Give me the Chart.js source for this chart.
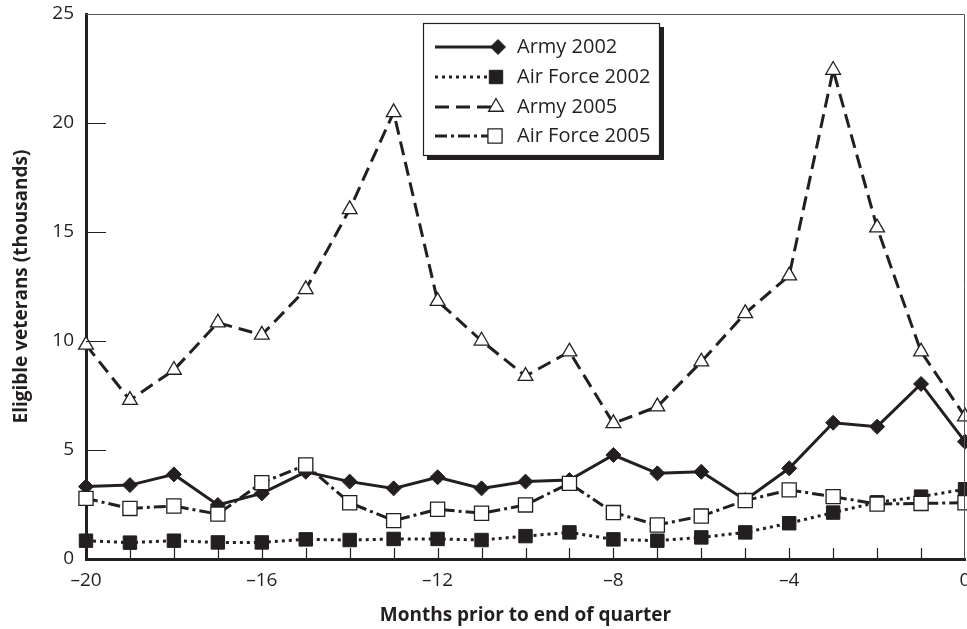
<!DOCTYPE html>
<html>
<head>
<meta charset="utf-8">
<script src="https://cdn.jsdelivr.net/npm/chart.js@4/dist/chart.umd.min.js"></script>
<style>
  html, body { margin: 0; padding: 0; background: #fff; }
  #wrap { width: 967px; height: 629px; position: relative; }
</style>
</head>
<body>
<div id="wrap"><canvas id="grafica"></canvas></div>
<script>
// --- Datos ---
const months = [-20, -19, -18, -17, -16, -15, -14, -13, -12, -11, -10, -9, -8, -7, -6, -5, -4, -3, -2, -1, 0];
const army2002 = [3.32, 3.39, 3.88, 2.48, 3.01, 4.0, 3.55, 3.24, 3.75, 3.24, 3.55, 3.62, 4.77, 3.93, 4.0, 2.71, 4.16, 6.25, 6.07, 8.03, 5.38];
const airForce2002 = [0.84, 0.75, 0.84, 0.76, 0.76, 0.9, 0.87, 0.92, 0.92, 0.87, 1.05, 1.22, 0.9, 0.84, 0.99, 1.22, 1.64, 2.13, 2.6, 2.86, 3.2];
const army2005 = [9.82, 7.29, 8.67, 10.84, 10.28, 12.37, 16.04, 20.49, 11.83, 10.01, 8.39, 9.51, 6.22, 6.99, 9.05, 11.27, 13.0, 22.43, 15.2, 9.51, 6.53];
const airForce2005 = [2.78, 2.32, 2.43, 2.06, 3.5, 4.31, 2.58, 1.76, 2.28, 2.1, 2.48, 3.47, 2.13, 1.56, 1.97, 2.68, 3.17, 2.86, 2.52, 2.55, 2.58];
const xTickLabels = [-20, -16, -12, -8, -4, 0];
const yTickLabels = [0, 5, 10, 15, 20, 25];

const INK = '#231f20';
const FONT = "'Open Sans', 'Noto Sans', sans-serif";

const toPoints = (vals) => months.map((m, i) => ({ x: m, y: vals[i] }));

// --- Marcas interiores y marco superior/derecho ---
const marcoPlugin = {
  id: 'marco',
  afterDatasetsDraw(chart) {
    const { ctx, chartArea, scales } = chart;
    ctx.save();
    ctx.strokeStyle = INK;
    ctx.lineWidth = 1.2;
    ctx.beginPath();
    months.forEach(m => {
      if (m === months[0] || m === months[months.length - 1]) return;
      const px = Math.round(scales.x.getPixelForValue(m)) + 0.5;
      ctx.moveTo(px, chartArea.bottom);
      ctx.lineTo(px, chartArea.bottom - 11);
    });
    yTickLabels.forEach(v => {
      if (v === 0 || v === 25) return;
      const py = Math.round(scales.y.getPixelForValue(v)) + 0.5;
      ctx.moveTo(chartArea.left, py);
      ctx.lineTo(chartArea.left + 20, py);
    });
    ctx.stroke();
    ctx.strokeStyle = '#555';
    ctx.lineWidth = 1;
    ctx.beginPath();
    ctx.moveTo(chartArea.left, chartArea.top + 0.5);
    ctx.lineTo(chartArea.right - 0.5, chartArea.top + 0.5);
    ctx.lineTo(chartArea.right - 0.5, chartArea.bottom);
    ctx.stroke();
    ctx.restore();
  }
};

// --- Leyenda con línea + marcador ---
const leyendaPlugin = {
  id: 'leyenda',
  afterDraw(chart) {
    const { ctx } = chart;
    const box = { x: 423, y: 23, w: 237, h: 133 };
    ctx.save();
    ctx.fillStyle = INK;
    ctx.fillRect(box.x + 4, box.y + 4, box.w, box.h);
    ctx.fillStyle = '#fff';
    ctx.fillRect(box.x, box.y, box.w, box.h);
    ctx.strokeStyle = INK;
    ctx.lineWidth = 1.2;
    ctx.strokeRect(box.x + 0.5, box.y + 0.5, box.w - 1, box.h - 1);
    const rowY = [47, 77, 107, 136];
    const markX = [498, 496, 496, 495];
    chart.data.datasets.forEach((ds, i) => {
      const y = rowY[i];
      ctx.save();
      ctx.strokeStyle = ds.borderColor;
      ctx.lineWidth = ds.borderWidth;
      ctx.setLineDash(ds.borderDash || []);
      ctx.beginPath();
      ctx.moveTo(435, y);
      ctx.lineTo(markX[i], y);
      ctx.stroke();
      ctx.restore();
      ctx.fillStyle = ds.pointBackgroundColor;
      ctx.strokeStyle = ds.pointBorderColor;
      ctx.lineWidth = ds.pointBorderWidth;
      Chart.helpers.drawPoint(ctx, {
        pointStyle: ds.pointStyle, radius: ds.pointRadius, rotation: 0, borderWidth: ds.pointBorderWidth
      }, markX[i], y);
      ctx.fillStyle = INK;
      ctx.font = `20px ${FONT}`;
      ctx.textBaseline = 'middle';
      ctx.textAlign = 'left';
      ctx.fillText(ds.label, 517, y);
    });
    ctx.restore();
  }
};

const dsBase = { borderColor: INK, borderWidth: 3, pointBorderColor: INK, clip: false, tension: 0, borderCapStyle: 'butt' };

new Chart(document.getElementById('grafica'), {
  type: 'line',
  data: {
    datasets: [
      { ...dsBase, label: 'Army 2002', data: toPoints(army2002), order: 3,
        pointStyle: 'rectRot', pointRadius: 7.5, pointBackgroundColor: INK, pointBorderWidth: 1 },
      { ...dsBase, label: 'Air Force 2002', data: toPoints(airForce2002), order: 2, borderDash: [3, 4],
        pointStyle: 'rect', pointRadius: 9.5, pointBackgroundColor: INK, pointBorderWidth: 1 },
      { ...dsBase, label: 'Army 2005', data: toPoints(army2005), order: 1, borderDash: [14, 7],
        pointStyle: 'triangle', pointRadius: 8.5, pointBackgroundColor: '#fff', pointBorderWidth: 1.3 },
      { ...dsBase, label: 'Air Force 2005', data: toPoints(airForce2005), order: 0, borderDash: [12, 4, 3, 4],
        pointStyle: 'rect', pointRadius: 10, pointBackgroundColor: '#fff', pointBorderWidth: 1.3 }
    ]
  },
  options: {
    responsive: true,
    maintainAspectRatio: false,
    animation: false,
    layout: { autoPadding: false, padding: { top: 14, right: 2, left: 0, bottom: 0 } },
    plugins: { legend: { display: false }, tooltip: { enabled: false } },
    elements: { point: { hoverRadius: 0 } },
    scales: {
      x: {
        type: 'linear', min: -20, max: 0,
        afterBuildTicks: (s) => { s.ticks = xTickLabels.map(v => ({ value: v })); },
        afterFit: (s) => { s.height = 70; s.paddingLeft = 0; s.paddingRight = 0; },
        grid: { drawOnChartArea: false, drawTicks: false },
        border: { display: true, color: INK, width: 3 },
        ticks: {
          padding: 10, color: INK, font: { family: FONT, size: 19 },
          maxRotation: 0, autoSkip: false,
          callback: (v) => String(v).replace('-', '\u2013')
        },
        title: {
          display: true, text: 'Months prior to end of quarter', color: INK,
          font: { family: FONT, size: 19, weight: 'bold' }, padding: { top: 2, bottom: 2 }
        }
      },
      y: {
        min: 0, max: 25,
        afterBuildTicks: (s) => { s.ticks = yTickLabels.map(v => ({ value: v })); },
        afterFit: (s) => { s.width = 86; s.paddingTop = 0; s.paddingBottom = 0; },
        grid: { drawOnChartArea: false, drawTicks: false },
        border: { display: true, color: INK, width: 3 },
        ticks: { padding: 12, color: INK, font: { family: FONT, size: 19 } },
        title: {
          display: true, text: 'Eligible veterans (thousands)', color: INK,
          font: { family: FONT, size: 19, weight: 'bold' }, padding: { top: 10, bottom: 0 }
        }
      }
    }
  },
  plugins: [marcoPlugin, leyendaPlugin]
});
</script>
</body>
</html>
